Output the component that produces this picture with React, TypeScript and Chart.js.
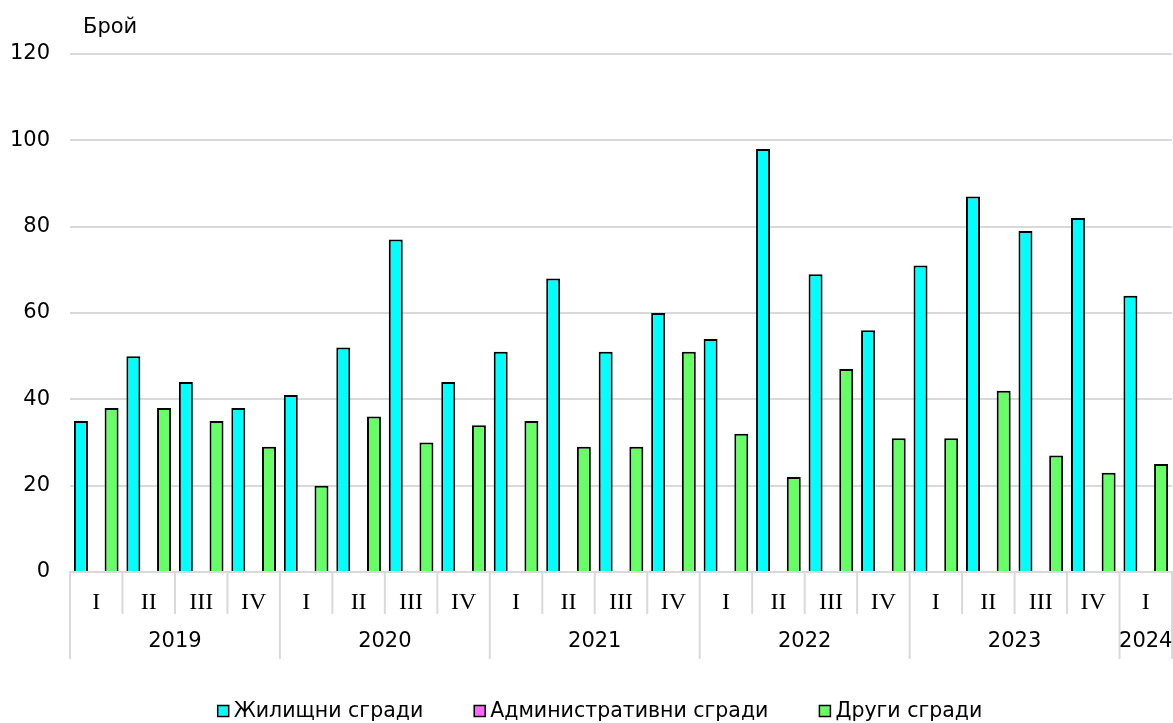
import React, { useEffect, useRef } from "react";
import { Chart, registerables } from "chart.js";

Chart.register(...registerables);

const quarters = ["I","II","III","IV","I","II","III","IV","I","II","III","IV","I","II","III","IV","I","II","III","IV","I"];
const years = ["2019","2019","2019","2019","2020","2020","2020","2020","2021","2021","2021","2021","2022","2022","2022","2022","2023","2023","2023","2023","2024"];
const residential = [35,50,44,38,41,52,77,44,51,68,51,60,54,98,69,56,71,87,79,82,64];
const administrative = [0,0,0,0,0,0,0,0,0,0,0,0,0,0,0,0,0,0,0,0,0];
const other = [38,38,35,29,20,36,30,34,35,29,29,51,32,22,47,31,31,42,27,23,25];
const yTicks = [0,20,40,60,80,100,120];
const yTitle = "Брой";
const seriesNames = ["Жилищни сгради","Административни сгради","Други сгради"];
const seriesColors = ["#00ffff","#ff66ff","#66ff66"];

const SANS = "'DejaVu Sans', Verdana, sans-serif";
const SERIF = "'Liberation Serif', 'Times New Roman', serif";
const GRID = "#d9d9d9";

const decor = {
  id: "decor",
  afterDraw(chart: any) {
    const ctx = chart.ctx;
    const x = chart.scales.x;
    const area = chart.chartArea;
    const n = quarters.length;
    const w = (area.right - area.left) / n;
    ctx.save();
    ctx.strokeStyle = GRID;
    ctx.lineWidth = 2;
    for (let i = 0; i <= n; i++) {
      const px = i < n ? x.getPixelForValue(i) - w / 2 : x.getPixelForValue(n - 1) + w / 2;
      const yearEdge = i === 0 || i === n || years[i] !== years[i - 1];
      ctx.beginPath();
      ctx.moveTo(px, area.bottom);
      ctx.lineTo(px, yearEdge ? area.bottom + 87 : area.bottom + 42);
      ctx.stroke();
    }
    ctx.fillStyle = "#000";
    ctx.font = "21px " + SANS;
    ctx.textAlign = "center";
    ctx.textBaseline = "middle";
    let start = 0;
    for (let i = 1; i <= n; i++) {
      if (i === n || years[i] !== years[start]) {
        const c = (x.getPixelForValue(start) + x.getPixelForValue(i - 1)) / 2;
        ctx.fillText(years[start], c, area.bottom + 70);
        start = i;
      }
    }
    ctx.textAlign = "left";
    ctx.textBaseline = "alphabetic";
    ctx.fillText(yTitle, 83, 33);

    // legend
    const ds = chart.data.datasets;
    const box = 11, gapText = 5, gapItem = 51;
    ctx.font = "20.5px " + SANS;
    const widths = ds.map((d: any) => box + gapText + ctx.measureText(d.label).width);
    const total = widths.reduce((a: number, b: number) => a + b, 0) + gapItem * (ds.length - 1);
    let lx = 600 - total / 2;
    const ly = 711;
    ctx.textBaseline = "middle";
    ds.forEach((d: any, i: number) => {
      ctx.fillStyle = d.backgroundColor;
      ctx.fillRect(lx, ly - box / 2, box, box);
      ctx.strokeStyle = "#000";
      ctx.lineWidth = 1.5;
      ctx.strokeRect(lx, ly - box / 2, box, box);
      ctx.fillStyle = "#000";
      ctx.fillText(d.label, lx + box + gapText, ly + 1);
      lx += widths[i] + gapItem;
    });
    ctx.restore();
  },
};

export default function App() {
  const ref = useRef<HTMLCanvasElement>(null);
  useEffect(() => {
    const chart = new Chart(ref.current as HTMLCanvasElement, {
      type: "bar",
      data: {
        labels: quarters,
        datasets: [
          { label: seriesNames[0], data: residential, backgroundColor: seriesColors[0], borderColor: "#000", borderWidth: 2, borderSkipped: "bottom" },
          { label: seriesNames[1], data: administrative, backgroundColor: seriesColors[1], borderColor: "#000", borderWidth: 2, borderSkipped: "bottom" },
          { label: seriesNames[2], data: other, backgroundColor: seriesColors[2], borderColor: "#000", borderWidth: 2, borderSkipped: "bottom" },
        ],
      },
      plugins: [decor],
      options: {
        animation: false,
        responsive: false,
        maintainAspectRatio: false,
        layout: { padding: { top: 54, right: 1, left: 0, bottom: 63 } },
        datasets: { bar: { categoryPercentage: 0.877, barPercentage: 0.91 } },
        plugins: {
          legend: { display: false },
          tooltip: { enabled: false },
        },
        scales: {
          x: {
            grid: { display: false, drawTicks: false },
            border: { display: true, color: GRID, width: 2 },
            ticks: { color: "#000", font: { family: SERIF, size: 24 }, padding: 16, maxRotation: 0, autoSkip: false },
            afterFit: (s: any) => { s.height = 88; },
          },
          y: {
            min: 0,
            max: 120,
            afterBuildTicks: (s: any) => { s.ticks = yTicks.map((v) => ({ value: v })); },
            grid: { color: GRID, lineWidth: 2, drawTicks: false },
            border: { display: false },
            ticks: { color: "#000", font: { family: SANS, size: 21 }, padding: 20 },
            afterFit: (s: any) => { s.width = 70; },
          },
        },
      },
    } as any);
    return () => chart.destroy();
  }, []);
  return (
    <div style={{ position: "fixed", left: 0, top: 0, width: 1173, height: 723, background: "#fff" }}>
      <canvas ref={ref} width={1173} height={723} />
    </div>
  );
}
